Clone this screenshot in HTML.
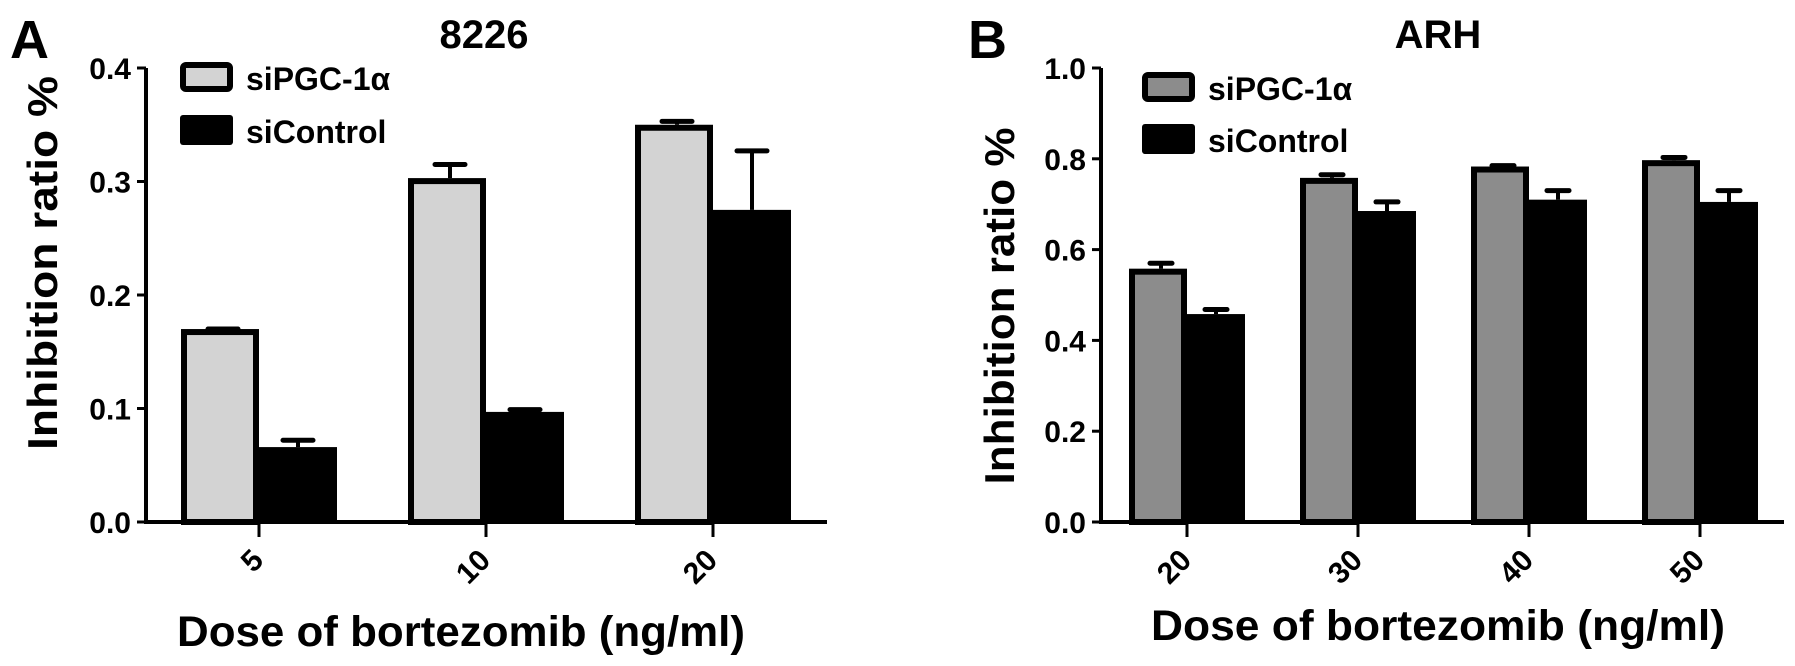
<!DOCTYPE html>
<html><head><meta charset="utf-8"><style>
html,body{margin:0;padding:0;background:#fff;}
svg{display:block;font-family:"Liberation Sans",Arial,sans-serif;font-weight:bold;}
</style></head><body>
<svg id="fig" width="1795" height="666" viewBox="0 0 1795 666" xmlns="http://www.w3.org/2000/svg">
<g id="panelA"></g>
<g id="panelB"></g>
</svg>
<script>
// Panel A data (8226)
const catsA = ["5","10","20"];
const pgcA = [0.170,0.303,0.350];
const pgcErrA = [0.0,0.012,0.003];
const ctlA = [0.066,0.097,0.275];
const ctlErrA = [0.006,0.002,0.052];
const ticksA = [0.0,0.1,0.2,0.3,0.4];
const tickLabelsA = ["0.0","0.1","0.2","0.3","0.4"];
// Panel B data (ARH)
const catsB = ["20","30","40","50"];
const pgcB = [0.558,0.758,0.783,0.797];
const pgcErrB = [0.012,0.007,0.002,0.006];
const ctlB = [0.458,0.685,0.710,0.705];
const ctlErrB = [0.010,0.020,0.020,0.025];
const ticksB = [0.0,0.2,0.4,0.6,0.8,1.0];
const tickLabelsB = ["0.0","0.2","0.4","0.6","0.8","1.0"];

const NS="http://www.w3.org/2000/svg";
function mk(parent,tag,attrs,text){const e=document.createElementNS(NS,tag);for(const k in attrs)e.setAttribute(k,attrs[k]);if(text!==undefined)e.textContent=text;parent.appendChild(e);return e;}

function drawPanel(g,o){
  const yScale=v=>o.y0-(v/o.ymax)*(o.y0-o.yTop);
  const xTick=i=>o.firstTick+i*o.step;
  o.cats.forEach((c,i)=>{
    const tx=xTick(i);
    const yp=yScale(o.pgc[i]);
    const ep=yScale(o.pgc[i]+o.pgcErr[i]);
    let st=mk(g,'line',{x1:tx-o.bw/2+3,x2:tx-o.bw/2+3,y1:ep,y2:yp,stroke:'#000','stroke-width':4});
    
    
    let cp=mk(g,'line',{x1:tx-o.bw/2+3-o.cap/2,x2:tx-o.bw/2+3+o.cap/2,y1:ep,y2:ep,stroke:'#000','stroke-width':5,'stroke-linecap':'round'});
    
    
    let r=mk(g,'rect',{x:tx-o.bw+3,y:yp+3,width:o.bw-6,height:o.y0-yp-3,fill:o.fill,stroke:'#000','stroke-width':6});
    
    
    const yc=yScale(o.ctl[i]);
    const ec=yScale(o.ctl[i]+o.ctlErr[i]);
    let st2=mk(g,'line',{x1:tx+o.bw/2,x2:tx+o.bw/2,y1:ec,y2:yc,stroke:'#000','stroke-width':4});
    
    
    let cp2=mk(g,'line',{x1:tx+o.bw/2-o.cap/2,x2:tx+o.bw/2+o.cap/2,y1:ec,y2:ec,stroke:'#000','stroke-width':5,'stroke-linecap':'round'});
    
    
    let r2=mk(g,'rect',{x:tx,y:yc,width:o.bw,height:o.y0-yc,fill:'#000'});
    
    
    let t=mk(g,'line',{x1:tx,x2:tx,y1:o.y0,y2:o.y0+15,stroke:'#000','stroke-width':3});
    
    
    let tl=mk(g,'text',{x:tx+6,y:o.y0+40,'font-size':30,'text-anchor':'end',transform:`rotate(-45 ${tx+6} ${o.y0+40})`},c);
    
    
  });
  let ya=mk(g,'line',{x1:o.ax,x2:o.ax,y1:o.yTop,y2:o.y0+2,stroke:'#000','stroke-width':4});
  
  
  let xa=mk(g,'line',{x1:o.ax-2,x2:o.axEnd,y1:o.y0,y2:o.y0,stroke:'#000','stroke-width':4});
  
  
  o.ticks.forEach((v,i)=>{
    const y=yScale(v);
    let t=mk(g,'line',{x1:o.ax-9,x2:o.ax,y1:y,y2:y,stroke:'#000','stroke-width':3});
    
    
    let l=mk(g,'text',{x:o.ax-15,y:y+11,'font-size':30,'text-anchor':'end'},o.tickLabels[i]);
    
    
  });
  let yt=mk(g,'text',{x:o.ytX,y:o.ytY,'font-size':42,'text-anchor':'middle',textLength:o.ytLen,lengthAdjust:'spacingAndGlyphs',transform:`rotate(-90 ${o.ytX} ${o.ytY})`},'Inhibition ratio %');
  
  
  let xt=mk(g,'text',{x:o.xtX,y:o.xtY,'font-size':43,'text-anchor':'middle',textLength:o.xtLen,lengthAdjust:'spacingAndGlyphs'},'Dose of bortezomib (ng/ml)');
  
  
  let ti=mk(g,'text',{x:o.titleX,y:48,'font-size':40,'text-anchor':'middle'},o.title);
  
  
  let pl=mk(g,'text',{x:o.letterX,y:58,'font-size':54},o.letter);
  
  
  let lb1=mk(g,'rect',{x:o.lgX+3,y:o.lgY1+3,width:47,height:24,fill:o.fill,stroke:'#000','stroke-width':6,rx:3});
  
  
  let lt1=mk(g,'text',{x:o.lgX+66,y:o.lgY1+28,'font-size':32},'siPGC-1α');
  
  
  let lb2=mk(g,'rect',{x:o.lgX,y:o.lgY2,width:53,height:30,fill:'#000',rx:3});
  
  
  let lt2=mk(g,'text',{x:o.lgX+66,y:o.lgY2+28,'font-size':32},'siControl');
  
  
}

drawPanel(document.getElementById('panelA'),{
  cats:catsA,pgc:pgcA,pgcErr:pgcErrA,ctl:ctlA,ctlErr:ctlErrA,ticks:ticksA,tickLabels:tickLabelsA,
  ymax:0.4,y0:522,yTop:68,ax:146,axEnd:827,firstTick:259,step:227,bw:78,cap:30,fill:'#d3d3d3',
  ytX:57,ytY:263,ytLen:374,xtX:461,xtY:646,xtLen:568,titleX:484,title:'8226',letterX:10,letter:'A',
  lgX:180,lgY1:62,lgY2:115
});
drawPanel(document.getElementById('panelB'),{
  cats:catsB,pgc:pgcB,pgcErr:pgcErrB,ctl:ctlB,ctlErr:ctlErrB,ticks:ticksB,tickLabels:tickLabelsB,
  ymax:1.0,y0:522,yTop:68,ax:1101,axEnd:1784,firstTick:1187,step:171,bw:58,cap:22,fill:'#8c8c8c',
  ytX:1014,ytY:306,ytLen:357,xtX:1438,xtY:640,xtLen:574,titleX:1438,title:'ARH',letterX:968,letter:'B',
  lgX:1142,lgY1:72,lgY2:124
});
</script>
</body></html>
